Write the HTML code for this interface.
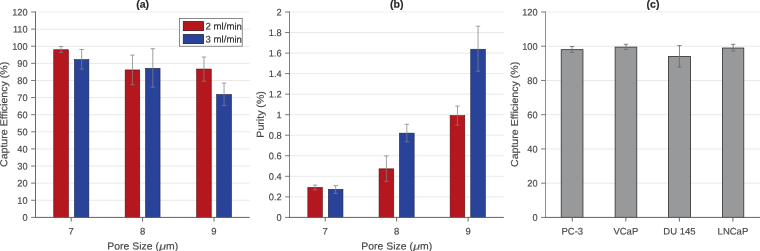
<!DOCTYPE html><html><head><meta charset="utf-8"><title>Figure</title><style>html,body{margin:0;padding:0;background:#fff}svg{display:block}text{stroke:#666;stroke-width:0.18px;paint-order:stroke}</style></head><body>
<svg width="760" height="251" viewBox="0 0 760 251" text-rendering="geometricPrecision" font-family='"Liberation Sans", sans-serif'>
<rect width="760" height="251" fill="#fff"/>
<line x1="36.0" y1="200.28" x2="249.7" y2="200.28" stroke="#e9e9e9" stroke-width="1"/>
<line x1="36.0" y1="183.17" x2="249.7" y2="183.17" stroke="#e9e9e9" stroke-width="1"/>
<line x1="36.0" y1="166.05" x2="249.7" y2="166.05" stroke="#e9e9e9" stroke-width="1"/>
<line x1="36.0" y1="148.93" x2="249.7" y2="148.93" stroke="#e9e9e9" stroke-width="1"/>
<line x1="36.0" y1="131.82" x2="249.7" y2="131.82" stroke="#e9e9e9" stroke-width="1"/>
<line x1="36.0" y1="114.70" x2="249.7" y2="114.70" stroke="#e9e9e9" stroke-width="1"/>
<line x1="36.0" y1="97.58" x2="249.7" y2="97.58" stroke="#e9e9e9" stroke-width="1"/>
<line x1="36.0" y1="80.47" x2="249.7" y2="80.47" stroke="#e9e9e9" stroke-width="1"/>
<line x1="36.0" y1="63.35" x2="249.7" y2="63.35" stroke="#e9e9e9" stroke-width="1"/>
<line x1="36.0" y1="46.23" x2="249.7" y2="46.23" stroke="#e9e9e9" stroke-width="1"/>
<line x1="36.0" y1="29.12" x2="249.7" y2="29.12" stroke="#e9e9e9" stroke-width="1"/>
<line x1="36.0" y1="12.00" x2="249.7" y2="12.00" stroke="#eeeeee" stroke-width="1"/>
<line x1="290.0" y1="196.86" x2="503.8" y2="196.86" stroke="#e9e9e9" stroke-width="1"/>
<line x1="290.0" y1="176.32" x2="503.8" y2="176.32" stroke="#e9e9e9" stroke-width="1"/>
<line x1="290.0" y1="155.78" x2="503.8" y2="155.78" stroke="#e9e9e9" stroke-width="1"/>
<line x1="290.0" y1="135.24" x2="503.8" y2="135.24" stroke="#e9e9e9" stroke-width="1"/>
<line x1="290.0" y1="114.70" x2="503.8" y2="114.70" stroke="#e9e9e9" stroke-width="1"/>
<line x1="290.0" y1="94.16" x2="503.8" y2="94.16" stroke="#e9e9e9" stroke-width="1"/>
<line x1="290.0" y1="73.62" x2="503.8" y2="73.62" stroke="#e9e9e9" stroke-width="1"/>
<line x1="290.0" y1="53.08" x2="503.8" y2="53.08" stroke="#e9e9e9" stroke-width="1"/>
<line x1="290.0" y1="32.54" x2="503.8" y2="32.54" stroke="#e9e9e9" stroke-width="1"/>
<line x1="290.0" y1="12.00" x2="503.8" y2="12.00" stroke="#eeeeee" stroke-width="1"/>
<line x1="546.0" y1="183.17" x2="760.5" y2="183.17" stroke="#e9e9e9" stroke-width="1"/>
<line x1="546.0" y1="148.93" x2="760.5" y2="148.93" stroke="#e9e9e9" stroke-width="1"/>
<line x1="546.0" y1="114.70" x2="760.5" y2="114.70" stroke="#e9e9e9" stroke-width="1"/>
<line x1="546.0" y1="80.47" x2="760.5" y2="80.47" stroke="#e9e9e9" stroke-width="1"/>
<line x1="546.0" y1="46.23" x2="760.5" y2="46.23" stroke="#e9e9e9" stroke-width="1"/>
<line x1="546.0" y1="12.00" x2="760.5" y2="12.00" stroke="#eeeeee" stroke-width="1"/>
<rect x="53.75" y="49.75" width="14.70" height="167.65" fill="#b5171f" stroke="#5a0b0f" stroke-width="0.6"/>
<rect x="74.45" y="59.65" width="14.40" height="157.75" fill="#29439b" stroke="#14214d" stroke-width="0.6"/>
<rect x="125.15" y="69.95" width="14.60" height="147.45" fill="#b5171f" stroke="#5a0b0f" stroke-width="0.6"/>
<rect x="145.55" y="68.35" width="14.50" height="149.05" fill="#29439b" stroke="#14214d" stroke-width="0.6"/>
<rect x="196.65" y="69.05" width="14.60" height="148.35" fill="#b5171f" stroke="#5a0b0f" stroke-width="0.6"/>
<rect x="216.65" y="94.55" width="14.80" height="122.85" fill="#29439b" stroke="#14214d" stroke-width="0.6"/>
<path d="M61.10 46.50V52.40M58.90 46.50H63.30M58.90 52.40H63.30" fill="none" stroke="#828282" stroke-width="0.75"/>
<path d="M81.65 49.50V69.00M79.45 49.50H83.85M79.45 69.00H83.85" fill="none" stroke="#828282" stroke-width="0.75"/>
<path d="M132.45 55.10V84.80M130.25 55.10H134.65M130.25 84.80H134.65" fill="none" stroke="#828282" stroke-width="0.75"/>
<path d="M152.80 48.70V87.20M150.60 48.70H155.00M150.60 87.20H155.00" fill="none" stroke="#828282" stroke-width="0.75"/>
<path d="M203.95 57.00V81.20M201.75 57.00H206.15M201.75 81.20H206.15" fill="none" stroke="#828282" stroke-width="0.75"/>
<path d="M224.05 83.10V105.40M221.85 83.10H226.25M221.85 105.40H226.25" fill="none" stroke="#828282" stroke-width="0.75"/>
<rect x="307.85" y="187.45" width="14.50" height="29.95" fill="#b5171f" stroke="#5a0b0f" stroke-width="0.6"/>
<rect x="328.35" y="189.35" width="14.60" height="28.05" fill="#29439b" stroke="#14214d" stroke-width="0.6"/>
<rect x="379.05" y="168.85" width="14.70" height="48.55" fill="#b5171f" stroke="#5a0b0f" stroke-width="0.6"/>
<rect x="399.45" y="133.15" width="14.70" height="84.25" fill="#29439b" stroke="#14214d" stroke-width="0.6"/>
<rect x="450.15" y="115.65" width="14.60" height="101.75" fill="#b5171f" stroke="#5a0b0f" stroke-width="0.6"/>
<rect x="470.75" y="49.25" width="14.60" height="168.15" fill="#29439b" stroke="#14214d" stroke-width="0.6"/>
<path d="M315.10 185.10V189.90M312.90 185.10H317.30M312.90 189.90H317.30" fill="none" stroke="#828282" stroke-width="0.75"/>
<path d="M335.65 185.60V193.40M333.45 185.60H337.85M333.45 193.40H337.85" fill="none" stroke="#828282" stroke-width="0.75"/>
<path d="M386.40 155.90V181.30M384.20 155.90H388.60M384.20 181.30H388.60" fill="none" stroke="#828282" stroke-width="0.75"/>
<path d="M406.80 124.30V141.80M404.60 124.30H409.00M404.60 141.80H409.00" fill="none" stroke="#828282" stroke-width="0.75"/>
<path d="M457.45 106.00V125.20M455.25 106.00H459.65M455.25 125.20H459.65" fill="none" stroke="#828282" stroke-width="0.75"/>
<path d="M478.05 26.20V71.20M475.85 26.20H480.25M475.85 71.20H480.25" fill="none" stroke="#828282" stroke-width="0.75"/>
<rect x="561.25" y="49.65" width="21.70" height="167.75" fill="#98999b" stroke="#3c3c3c" stroke-width="0.9"/>
<rect x="615.15" y="47.15" width="21.60" height="170.25" fill="#98999b" stroke="#3c3c3c" stroke-width="0.9"/>
<rect x="668.45" y="56.55" width="22.00" height="160.85" fill="#98999b" stroke="#3c3c3c" stroke-width="0.9"/>
<rect x="722.55" y="48.05" width="21.20" height="169.35" fill="#98999b" stroke="#3c3c3c" stroke-width="0.9"/>
<path d="M572.10 46.50V52.50M569.90 46.50H574.30M569.90 52.50H574.30" fill="none" stroke="#6e6e6e" stroke-width="0.85"/>
<path d="M625.95 44.30V49.40M623.75 44.30H628.15M623.75 49.40H628.15" fill="none" stroke="#6e6e6e" stroke-width="0.85"/>
<path d="M679.45 45.60V67.10M677.25 45.60H681.65M677.25 67.10H681.65" fill="none" stroke="#6e6e6e" stroke-width="0.85"/>
<path d="M733.15 44.30V51.00M730.95 44.30H735.35M730.95 51.00H735.35" fill="none" stroke="#6e6e6e" stroke-width="0.85"/>
<path d="M35.5 11.5V217.9" fill="none" stroke="#686868" stroke-width="1"/>
<path d="M35.0 217.4H249.7" fill="none" stroke="#626262" stroke-width="1"/>
<line x1="31.1" y1="217.40" x2="35.5" y2="217.40" stroke="#6a6a6a" stroke-width="0.9"/>
<text transform="translate(27.60 220.85) rotate(0.05) scale(0.97 1)" text-anchor="end" font-size="9.5" fill="#444444">0</text>
<line x1="31.1" y1="200.28" x2="35.5" y2="200.28" stroke="#6a6a6a" stroke-width="0.9"/>
<text transform="translate(27.60 203.73) rotate(0.05) scale(0.97 1)" text-anchor="end" font-size="9.5" fill="#444444">10</text>
<line x1="31.1" y1="183.17" x2="35.5" y2="183.17" stroke="#6a6a6a" stroke-width="0.9"/>
<text transform="translate(27.60 186.62) rotate(0.05) scale(0.97 1)" text-anchor="end" font-size="9.5" fill="#444444">20</text>
<line x1="31.1" y1="166.05" x2="35.5" y2="166.05" stroke="#6a6a6a" stroke-width="0.9"/>
<text transform="translate(27.60 169.50) rotate(0.05) scale(0.97 1)" text-anchor="end" font-size="9.5" fill="#444444">30</text>
<line x1="31.1" y1="148.93" x2="35.5" y2="148.93" stroke="#6a6a6a" stroke-width="0.9"/>
<text transform="translate(27.60 152.38) rotate(0.05) scale(0.97 1)" text-anchor="end" font-size="9.5" fill="#444444">40</text>
<line x1="31.1" y1="131.82" x2="35.5" y2="131.82" stroke="#6a6a6a" stroke-width="0.9"/>
<text transform="translate(27.60 135.27) rotate(0.05) scale(0.97 1)" text-anchor="end" font-size="9.5" fill="#444444">50</text>
<line x1="31.1" y1="114.70" x2="35.5" y2="114.70" stroke="#6a6a6a" stroke-width="0.9"/>
<text transform="translate(27.60 118.15) rotate(0.05) scale(0.97 1)" text-anchor="end" font-size="9.5" fill="#444444">60</text>
<line x1="31.1" y1="97.58" x2="35.5" y2="97.58" stroke="#6a6a6a" stroke-width="0.9"/>
<text transform="translate(27.60 101.03) rotate(0.05) scale(0.97 1)" text-anchor="end" font-size="9.5" fill="#444444">70</text>
<line x1="31.1" y1="80.47" x2="35.5" y2="80.47" stroke="#6a6a6a" stroke-width="0.9"/>
<text transform="translate(27.60 83.92) rotate(0.05) scale(0.97 1)" text-anchor="end" font-size="9.5" fill="#444444">80</text>
<line x1="31.1" y1="63.35" x2="35.5" y2="63.35" stroke="#6a6a6a" stroke-width="0.9"/>
<text transform="translate(27.60 66.80) rotate(0.05) scale(0.97 1)" text-anchor="end" font-size="9.5" fill="#444444">90</text>
<line x1="31.1" y1="46.23" x2="35.5" y2="46.23" stroke="#6a6a6a" stroke-width="0.9"/>
<text transform="translate(27.60 49.68) rotate(0.05) scale(0.97 1)" text-anchor="end" font-size="9.5" fill="#444444">100</text>
<line x1="31.1" y1="29.12" x2="35.5" y2="29.12" stroke="#6a6a6a" stroke-width="0.9"/>
<text transform="translate(27.60 32.57) rotate(0.05) scale(0.97 1)" text-anchor="end" font-size="9.5" fill="#444444">110</text>
<line x1="31.1" y1="12.00" x2="35.5" y2="12.00" stroke="#6a6a6a" stroke-width="0.9"/>
<text transform="translate(27.60 15.45) rotate(0.05) scale(0.97 1)" text-anchor="end" font-size="9.5" fill="#444444">120</text>
<line x1="71.20" y1="217.4" x2="71.20" y2="221.5" stroke="#606060" stroke-width="0.95"/>
<text transform="translate(71.20 234.4) rotate(0.05) scale(1.0 1)" text-anchor="middle" font-size="9.5" fill="#444444">7</text>
<line x1="142.60" y1="217.4" x2="142.60" y2="221.5" stroke="#606060" stroke-width="0.95"/>
<text transform="translate(142.60 234.4) rotate(0.05) scale(1.0 1)" text-anchor="middle" font-size="9.5" fill="#444444">8</text>
<line x1="214.00" y1="217.4" x2="214.00" y2="221.5" stroke="#606060" stroke-width="0.95"/>
<text transform="translate(214.00 234.4) rotate(0.05) scale(1.0 1)" text-anchor="middle" font-size="9.5" fill="#444444">9</text>
<text transform="translate(107.30 249.5) rotate(0.05) scale(1.033 1)" font-size="10.1" fill="#444444">Pore Size (</text>
<text transform="translate(158.90 249.5) rotate(0.05) scale(1.32 1)" font-family="Liberation Serif, serif" font-style="italic" font-size="10.9" fill="#555">μ</text>
<text transform="translate(166.00 249.5) rotate(0.05) scale(1.033 1)" font-size="10.1" fill="#444444">m)</text>
<text transform="translate(142.60 7.7) rotate(0.05)" text-anchor="middle" font-size="10.6" font-weight="bold" fill="#262626">(a)</text>
<text transform="translate(7.3 114.40) rotate(-90.05) scale(1.05 1)" text-anchor="middle" font-size="10.1" fill="#444444">Capture Efficiency (%)</text>
<path d="M289.5 11.5V217.9" fill="none" stroke="#7e7e7e" stroke-width="1"/>
<path d="M289.0 217.4H503.8" fill="none" stroke="#626262" stroke-width="1"/>
<line x1="285.1" y1="217.40" x2="289.5" y2="217.40" stroke="#6a6a6a" stroke-width="0.9"/>
<text transform="translate(281.60 220.85) rotate(0.05) scale(0.97 1)" text-anchor="end" font-size="9.5" fill="#444444">0</text>
<line x1="285.1" y1="196.86" x2="289.5" y2="196.86" stroke="#6a6a6a" stroke-width="0.9"/>
<text transform="translate(281.60 200.31) rotate(0.05) scale(0.97 1)" text-anchor="end" font-size="9.5" fill="#444444">0.2</text>
<line x1="285.1" y1="176.32" x2="289.5" y2="176.32" stroke="#6a6a6a" stroke-width="0.9"/>
<text transform="translate(281.60 179.77) rotate(0.05) scale(0.97 1)" text-anchor="end" font-size="9.5" fill="#444444">0.4</text>
<line x1="285.1" y1="155.78" x2="289.5" y2="155.78" stroke="#6a6a6a" stroke-width="0.9"/>
<text transform="translate(281.60 159.23) rotate(0.05) scale(0.97 1)" text-anchor="end" font-size="9.5" fill="#444444">0.6</text>
<line x1="285.1" y1="135.24" x2="289.5" y2="135.24" stroke="#6a6a6a" stroke-width="0.9"/>
<text transform="translate(281.60 138.69) rotate(0.05) scale(0.97 1)" text-anchor="end" font-size="9.5" fill="#444444">0.8</text>
<line x1="285.1" y1="114.70" x2="289.5" y2="114.70" stroke="#6a6a6a" stroke-width="0.9"/>
<text transform="translate(281.60 118.15) rotate(0.05) scale(0.97 1)" text-anchor="end" font-size="9.5" fill="#444444">1</text>
<line x1="285.1" y1="94.16" x2="289.5" y2="94.16" stroke="#6a6a6a" stroke-width="0.9"/>
<text transform="translate(281.60 97.61) rotate(0.05) scale(0.97 1)" text-anchor="end" font-size="9.5" fill="#444444">1.2</text>
<line x1="285.1" y1="73.62" x2="289.5" y2="73.62" stroke="#6a6a6a" stroke-width="0.9"/>
<text transform="translate(281.60 77.07) rotate(0.05) scale(0.97 1)" text-anchor="end" font-size="9.5" fill="#444444">1.4</text>
<line x1="285.1" y1="53.08" x2="289.5" y2="53.08" stroke="#6a6a6a" stroke-width="0.9"/>
<text transform="translate(281.60 56.53) rotate(0.05) scale(0.97 1)" text-anchor="end" font-size="9.5" fill="#444444">1.6</text>
<line x1="285.1" y1="32.54" x2="289.5" y2="32.54" stroke="#6a6a6a" stroke-width="0.9"/>
<text transform="translate(281.60 35.99) rotate(0.05) scale(0.97 1)" text-anchor="end" font-size="9.5" fill="#444444">1.8</text>
<line x1="285.1" y1="12.00" x2="289.5" y2="12.00" stroke="#6a6a6a" stroke-width="0.9"/>
<text transform="translate(281.60 15.45) rotate(0.05) scale(0.97 1)" text-anchor="end" font-size="9.5" fill="#444444">2</text>
<line x1="325.22" y1="217.4" x2="325.22" y2="221.5" stroke="#606060" stroke-width="0.95"/>
<text transform="translate(325.22 234.4) rotate(0.05) scale(1.0 1)" text-anchor="middle" font-size="9.5" fill="#444444">7</text>
<line x1="396.65" y1="217.4" x2="396.65" y2="221.5" stroke="#606060" stroke-width="0.95"/>
<text transform="translate(396.65 234.4) rotate(0.05) scale(1.0 1)" text-anchor="middle" font-size="9.5" fill="#444444">8</text>
<line x1="468.08" y1="217.4" x2="468.08" y2="221.5" stroke="#606060" stroke-width="0.95"/>
<text transform="translate(468.08 234.4) rotate(0.05) scale(1.0 1)" text-anchor="middle" font-size="9.5" fill="#444444">9</text>
<text transform="translate(361.35 249.5) rotate(0.05) scale(1.033 1)" font-size="10.1" fill="#444444">Pore Size (</text>
<text transform="translate(412.95 249.5) rotate(0.05) scale(1.32 1)" font-family="Liberation Serif, serif" font-style="italic" font-size="10.9" fill="#555">μ</text>
<text transform="translate(420.05 249.5) rotate(0.05) scale(1.033 1)" font-size="10.1" fill="#444444">m)</text>
<text transform="translate(396.65 7.7) rotate(0.05)" text-anchor="middle" font-size="10.6" font-weight="bold" fill="#262626">(b)</text>
<text transform="translate(263.75 114.40) rotate(-90.05) scale(1.05 1)" text-anchor="middle" font-size="10.1" fill="#444444">Purity (%)</text>
<path d="M545.5 11.5V217.9" fill="none" stroke="#909090" stroke-width="1"/>
<path d="M545.0 217.4H760.5" fill="none" stroke="#626262" stroke-width="1"/>
<line x1="541.1" y1="217.40" x2="545.5" y2="217.40" stroke="#6a6a6a" stroke-width="0.9"/>
<text transform="translate(537.60 220.85) rotate(0.05) scale(0.97 1)" text-anchor="end" font-size="9.5" fill="#444444">0</text>
<line x1="541.1" y1="183.17" x2="545.5" y2="183.17" stroke="#6a6a6a" stroke-width="0.9"/>
<text transform="translate(537.60 186.62) rotate(0.05) scale(0.97 1)" text-anchor="end" font-size="9.5" fill="#444444">20</text>
<line x1="541.1" y1="148.93" x2="545.5" y2="148.93" stroke="#6a6a6a" stroke-width="0.9"/>
<text transform="translate(537.60 152.38) rotate(0.05) scale(0.97 1)" text-anchor="end" font-size="9.5" fill="#444444">40</text>
<line x1="541.1" y1="114.70" x2="545.5" y2="114.70" stroke="#6a6a6a" stroke-width="0.9"/>
<text transform="translate(537.60 118.15) rotate(0.05) scale(0.97 1)" text-anchor="end" font-size="9.5" fill="#444444">60</text>
<line x1="541.1" y1="80.47" x2="545.5" y2="80.47" stroke="#6a6a6a" stroke-width="0.9"/>
<text transform="translate(537.60 83.92) rotate(0.05) scale(0.97 1)" text-anchor="end" font-size="9.5" fill="#444444">80</text>
<line x1="541.1" y1="46.23" x2="545.5" y2="46.23" stroke="#6a6a6a" stroke-width="0.9"/>
<text transform="translate(537.60 49.68) rotate(0.05) scale(0.97 1)" text-anchor="end" font-size="9.5" fill="#444444">100</text>
<line x1="541.1" y1="12.00" x2="545.5" y2="12.00" stroke="#6a6a6a" stroke-width="0.9"/>
<text transform="translate(537.60 15.45) rotate(0.05) scale(0.97 1)" text-anchor="end" font-size="9.5" fill="#444444">120</text>
<line x1="572.27" y1="217.4" x2="572.27" y2="221.5" stroke="#606060" stroke-width="0.95"/>
<text transform="translate(572.27 234.4) rotate(0.05) scale(1.0 1)" text-anchor="middle" font-size="9.5" fill="#444444">PC-3</text>
<line x1="625.83" y1="217.4" x2="625.83" y2="221.5" stroke="#606060" stroke-width="0.95"/>
<text transform="translate(625.83 234.4) rotate(0.05) scale(1.0 1)" text-anchor="middle" font-size="9.5" fill="#444444">VCaP</text>
<line x1="679.38" y1="217.4" x2="679.38" y2="221.5" stroke="#606060" stroke-width="0.95"/>
<text transform="translate(679.38 234.4) rotate(0.05) scale(1.0 1)" text-anchor="middle" font-size="9.5" fill="#444444">DU 145</text>
<line x1="732.93" y1="217.4" x2="732.93" y2="221.5" stroke="#606060" stroke-width="0.95"/>
<text transform="translate(732.93 234.4) rotate(0.05) scale(1.0 1)" text-anchor="middle" font-size="9.5" fill="#444444">LNCaP</text>
<text transform="translate(653.00 7.7) rotate(0.05)" text-anchor="middle" font-size="10.6" font-weight="bold" fill="#262626">(c)</text>
<text transform="translate(517.9 114.40) rotate(-90.05) scale(1.05 1)" text-anchor="middle" font-size="10.1" fill="#444444">Capture Efficiency (%)</text>
<rect x="179.6" y="18.4" width="62.6" height="27.8" fill="#fff" stroke="#5a5a5a" stroke-width="0.7"/>
<rect x="183.3" y="21.6" width="20.2" height="9" fill="#b5171f" stroke="#5a0b0f" stroke-width="0.8"/>
<rect x="183.3" y="34.6" width="20.2" height="9" fill="#29439b" stroke="#14214d" stroke-width="0.8"/>
<text transform="translate(205.6 29.6) rotate(0.05)" font-size="9.6" fill="#262626">2 ml/min</text>
<text transform="translate(205.6 42.6) rotate(0.05)" font-size="9.6" fill="#262626">3 ml/min</text>
</svg></body></html>
